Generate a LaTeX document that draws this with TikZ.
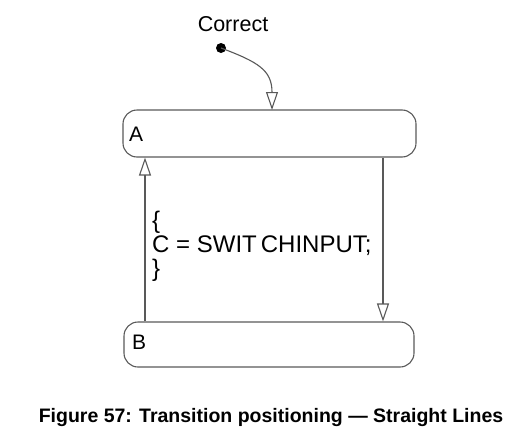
\documentclass[tikz,border=0pt]{standalone}
\usepackage{fontspec}
\setmainfont{Liberation Sans}
\usetikzlibrary{arrows.meta}
\definecolor{ln}{gray}{0.35}
\tikzset{
  statebox/.style={draw=ln, line width=1.1pt, rounded corners=14pt, inner sep=0pt},
  arr/.style={draw=ln, line width=1.1pt, -{Triangle[open, length=18pt, width=12pt, line width=1.1pt]}},
  lbl/.style={inner sep=0pt, font=\fontsize{21}{24}\selectfont},
}
\begin{document}
\begin{tikzpicture}[x=1pt, y=-1pt]
\useasboundingbox (0,0) rectangle (527,434);
\node[statebox, minimum width=293pt, minimum height=47pt] (A) at (269.5,133.5) {};
\node[statebox, minimum width=290pt, minimum height=45pt] (B) at (269,344.5) {};
\node[lbl, anchor=west] (Alab) at (129,134.5) {A};
\node[lbl, anchor=west] (Blab) at (132,342.5) {B};
\node[lbl, font=\fontsize{21.5}{24}\selectfont] (corr) at (233,24) {Correct};
\fill[black] (221,48) circle (5pt) coordinate (init);
\coordinate (entry) at (272,110);
\draw[arr] (init) .. controls (258,62) and (272,70) .. (entry);
\coordinate (xl) at (145,0);
\coordinate (xr) at (383,0);
\draw[arr] (xl |- B.north) -- (xl |- A.south);
\draw[arr] (xr |- A.south) -- (xr |- B.north);
\node[inner sep=0pt, anchor=west, align=left, font=\fontsize{24}{24}\selectfont] (act) at (152,246) {\{\\C = SWIT\hspace{4pt}CHINPUT;\\\}};
\node[inner sep=0pt, font=\bfseries\fontsize{19.5}{22}\selectfont] (cap) at (271,417) {Figure 57: Transition positioning — Straight Lines};
\end{tikzpicture}
\end{document}
